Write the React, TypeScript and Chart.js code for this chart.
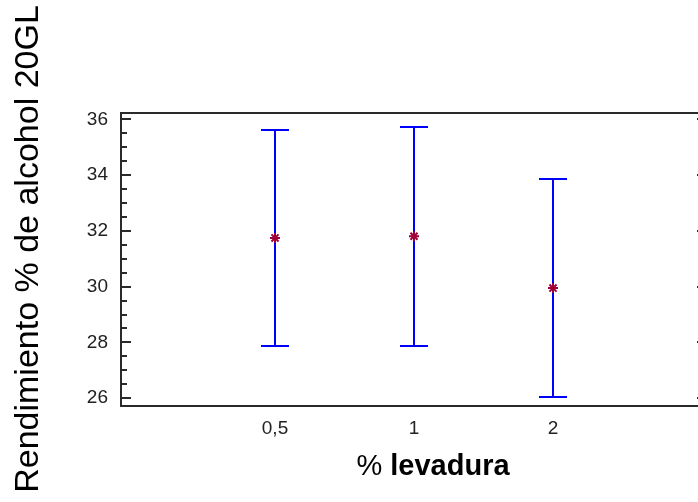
import { useEffect, useRef } from 'react';
import { Chart, registerables } from 'chart.js';

Chart.register(...registerables);

const categories = ['0,5', '1', '2'];
const means = [31.75, 31.81, 29.95];
const lower = [27.89, 27.89, 26.06];
const upper = [35.62, 35.72, 33.85];
const yTicks = [26, 28, 30, 32, 34, 36];
const yTitle = 'Rendimiento % de alcohol 20GL';
const xTitlePrefix = '%';
const xTitleRest = ' levadura';

const FONT = '"Liberation Sans", Arial, sans-serif';

const customPlugin = {
  id: 'customDraw',
  beforeDatasetsDraw(chart: any) {
    const { ctx, scales } = chart;
    const x = scales.x;
    const y = scales.y;
    ctx.save();
    ctx.strokeStyle = '#0000ff';
    ctx.lineWidth = 2;
    categories.forEach((_, i) => {
      const px = Math.round(x.getPixelForValue(i));
      const pt = Math.round(y.getPixelForValue(upper[i]));
      const pb = Math.round(y.getPixelForValue(lower[i]));
      ctx.beginPath();
      ctx.moveTo(px, pt);
      ctx.lineTo(px, pb);
      ctx.moveTo(px - 14, pt);
      ctx.lineTo(px + 14, pt);
      ctx.moveTo(px - 14, pb);
      ctx.lineTo(px + 14, pb);
      ctx.stroke();
    });
    ctx.restore();
  },
  afterDraw(chart: any) {
    const { ctx, chartArea, scales } = chart;
    const y = scales.y;
    const { left, right, top, bottom } = chartArea;
    ctx.save();
    // frame
    ctx.strokeStyle = '#2a2a2a';
    ctx.lineWidth = 2;
    ctx.strokeRect(left, top, right - left, bottom - top);
    // ticks (inward)
    ctx.lineWidth = 2;
    for (let k = 0; k <= 20; k++) {
      const v = yTicks[0] + k * 0.5;
      const major = k % 4 === 0;
      const len = major ? 10 : 6;
      const py = Math.round(y.getPixelForValue(v));
      ctx.beginPath();
      ctx.moveTo(left, py);
      ctx.lineTo(left + len, py);
      ctx.moveTo(right, py);
      ctx.lineTo(right - len, py);
      ctx.stroke();
    }
    // y title
    ctx.fillStyle = '#000000';
    ctx.translate(29, 249);
    ctx.rotate(-Math.PI / 2);
    ctx.font = '34px ' + FONT;
    ctx.textAlign = 'center';
    ctx.textBaseline = 'middle';
    ctx.fillText(yTitle, 0, 0);
    ctx.restore();

    // x title
    ctx.save();
    ctx.fillStyle = '#000000';
    ctx.textBaseline = 'middle';
    ctx.textAlign = 'left';
    const normalFont = '29px ' + FONT;
    const boldFont = 'bold 29px ' + FONT;
    ctx.font = normalFont;
    const w1 = ctx.measureText(xTitlePrefix).width;
    ctx.font = boldFont;
    const w2 = ctx.measureText(xTitleRest).width;
    const startX = 433 - (w1 + w2) / 2;
    ctx.font = normalFont;
    ctx.fillText(xTitlePrefix, startX, 467);
    ctx.font = boldFont;
    ctx.fillText(xTitleRest, startX + w1, 467);
    ctx.restore();
  },
};

function App() {
  const canvasRef = useRef<HTMLCanvasElement | null>(null);

  useEffect(() => {
    if (!canvasRef.current) return;
    const chart = new Chart(canvasRef.current, {
      type: 'scatter',
      data: {
        datasets: [
          {
            label: 'Media',
            data: means.map((m, i) => ({ x: i, y: m })),
            pointStyle: 'star',
            radius: 5,
            borderColor: '#a0003a',
            backgroundColor: '#a0003a',
            borderWidth: 2,
          },
        ],
      },
      options: {
        animation: false,
        responsive: false,
        maintainAspectRatio: false,
        layout: { padding: { top: 113, right: 13, left: 0, bottom: 0 } },
        plugins: {
          legend: { display: false },
          tooltip: { enabled: false },
        },
        scales: {
          x: {
            type: 'linear',
            min: -1.108,
            max: 3.108,
            grid: { display: false, drawTicks: false },
            border: { display: false },
            afterBuildTicks: (scale: any) => {
              scale.ticks = categories.map((_, i) => ({ value: i }));
            },
            afterFit: (scale: any) => {
              scale.height = 96;
            },
            ticks: {
              autoSkip: false,
              maxRotation: 0,
              padding: 11,
              color: '#222222',
              font: { family: FONT, size: 19 },
              callback: (v: any) => categories[v as number] ?? '',
            },
          },
          y: {
            type: 'linear',
            min: 25.72,
            max: 36.23,
            grid: { display: false, drawTicks: false },
            border: { display: false },
            afterBuildTicks: (scale: any) => {
              scale.ticks = yTicks.map((v) => ({ value: v }));
            },
            afterFit: (scale: any) => {
              scale.width = 121;
            },
            ticks: {
              padding: 13,
              color: '#222222',
              font: { family: FONT, size: 19 },
              callback: (v: any) => String(v),
            },
          },
        },
      },
      plugins: [customPlugin],
    });
    return () => chart.destroy();
  }, []);

  return (
    <div
      style={{
        position: 'absolute',
        left: 0,
        top: 0,
        width: 698,
        height: 502,
        overflow: 'hidden',
        background: '#ffffff',
      }}
    >
      <canvas ref={canvasRef} width={720} height={502} style={{ width: 720, height: 502, display: 'block' }} />
    </div>
  );
}

export default App;
